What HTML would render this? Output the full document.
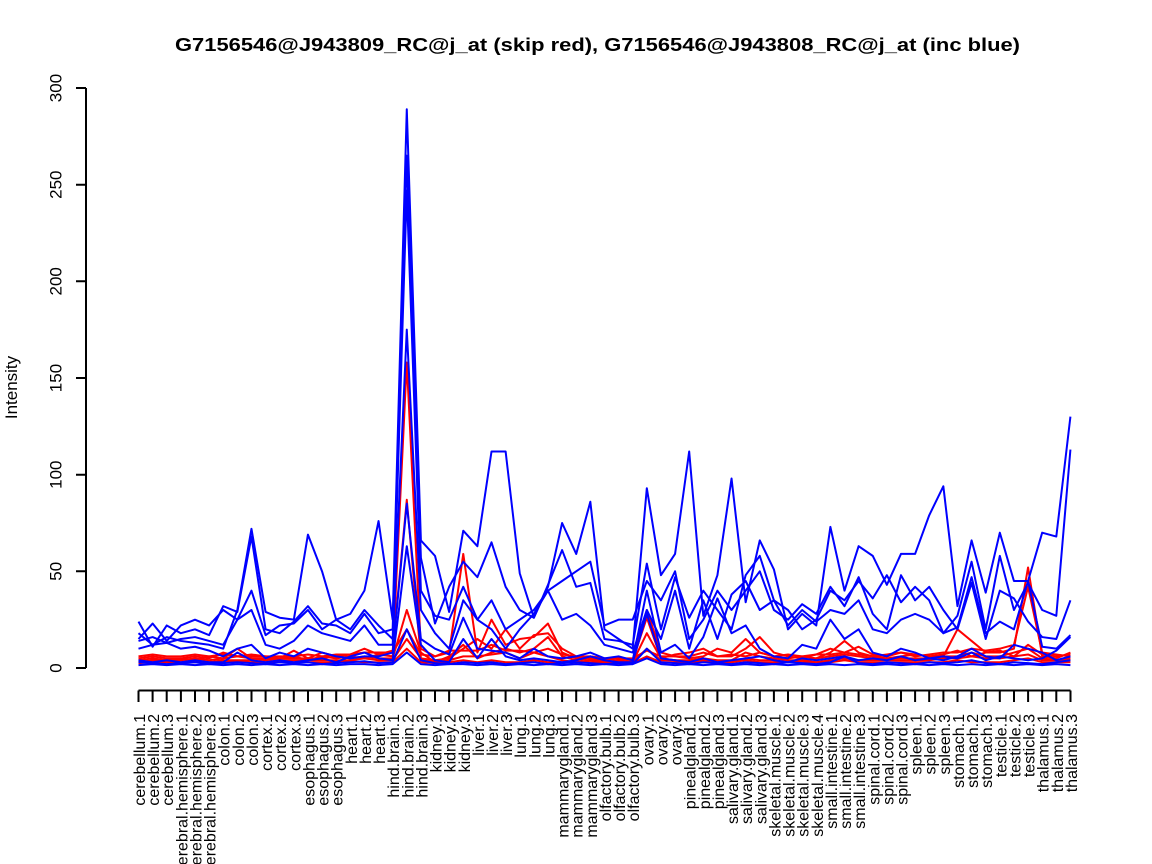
<!DOCTYPE html>
<html>
<head>
<meta charset="utf-8">
<style>
html,body{margin:0;padding:0;background:#fff;}
svg{display:block;}
text{font-family:"Liberation Sans",Arial,sans-serif;fill:#000;}
.b{fill:none;stroke:#0000ff;stroke-width:2;stroke-linejoin:round;vector-effect:non-scaling-stroke;}
.r{fill:none;stroke:#ff0000;stroke-width:2;stroke-linejoin:round;vector-effect:non-scaling-stroke;}
.xl{font-size:16px;text-anchor:end;}
.yl{font-size:17px;text-anchor:middle;}
</style>
</head>
<body>
<svg width="1152" height="864" viewBox="0 0 1152 864" xmlns="http://www.w3.org/2000/svg">
<rect width="1152" height="864" fill="#fff"/>
<text x="597.5" y="51" text-anchor="middle" font-size="18" font-weight="bold" textLength="845" lengthAdjust="spacingAndGlyphs">G7156546@J943809_RC@j_at (skip red), G7156546@J943808_RC@j_at (inc blue)</text>

<g transform="matrix(14.12 0 0 -1.93333 138.5 668)">
<polyline class="r" points="0,5 1,6 2,5 3,5 4,4 5,6 6,5 7,10 8,5 9,5 10,5 11,6 12,4 13,6 14,5 15,6 16,5 17,7 18,6 19,158 20,10 21,6 22,8 23,59 24,8 25,25 26,12 27,15 28,16 29,23 30,8 31,5 32,6 33,5 34,5 35,4 36,30 37,8 38,6 39,5 40,6 41,10 42,8 43,15 44,8 45,6 46,5 47,6 48,5 49,8 50,14 51,8 52,6 53,5 54,6 55,7 56,6 57,6 58,20 59,14 60,8 61,8 62,10 63,52 64,6 65,5 66,8"/>
<polyline class="r" points="0,4 1,5 2,4 3,5 4,6 5,5 6,8 7,6 8,7 9,6 10,5 11,9 12,5 13,8 14,6 15,7 16,10 17,7 18,9 19,87 20,5 21,4 22,5 23,10 24,15 25,10 26,20 27,10 28,17 29,18 30,10 31,6 32,5 33,4 34,5 35,4 36,26 37,5 38,7 39,8 40,10 41,6 42,6 43,10 44,16 45,8 46,6 47,5 48,7 49,10 50,8 51,11 52,7 53,6 54,8 55,6 56,7 57,8 58,8 59,10 60,9 61,10 62,12 63,42 64,8 65,7 66,6"/>
<polyline class="r" points="0,3 1,4 2,4 3,4 4,5 5,4 6,5 7,6 8,5 9,4 10,5 11,5 12,5 13,5 14,6 15,5 16,6 17,5 18,5 19,30 20,8 21,3 22,6 23,12 24,5 25,8 26,10 27,8 28,10 29,16 30,6 31,4 32,5 33,3 34,4 35,3 36,18 37,5 38,4 39,4 40,5 41,4 42,4 43,8 44,6 45,5 46,4 47,4 48,5 49,6 50,7 51,6 52,5 53,5 54,5 55,5 56,5 57,6 58,6 59,8 60,6 61,6 62,8 63,10 64,5 65,4 66,5"/>
<polyline class="r" points="0,3 1,3 2,4 3,3 4,4 5,3 6,4 7,4 8,4 9,3 10,4 11,4 12,4 13,4 14,4 15,4 16,5 17,4 18,4 19,15 20,5 21,3 22,4 23,6 24,6 25,7 26,8 27,5 28,8 29,6 30,4 31,3 32,4 33,3 34,3 35,3 36,10 37,4 38,4 39,3 40,4 41,3 42,3 43,5 44,4 45,4 46,3 47,4 48,3 49,4 50,5 51,4 52,4 53,4 54,4 55,4 56,4 57,5 58,5 59,6 60,5 61,5 62,6 63,7 64,4 65,4 66,4"/>
<polyline class="r" points="0,6 1,7 2,6 3,6 4,7 5,6 6,7 7,6 8,6 9,6 10,6 11,6 12,7 13,6 14,7 15,7 16,8 17,8 18,8 19,20 20,7 21,6 22,9 23,9 24,9 25,12 26,9 27,9 28,8 29,10 30,7 31,6 32,6 33,5 34,5 35,5 36,9 37,6 38,6 39,6 40,8 41,6 42,7 43,6 44,8 45,6 46,7 47,6 48,7 49,7 50,8 51,7 52,6 53,7 54,8 55,7 56,6 57,7 58,9 59,6 60,8 61,9 62,6 63,12 64,7 65,6 66,7"/>
<polyline class="r" points="0,2.5 1,3 2,3 3,2.5 4,3 5,3 6,3 7,3.5 8,3 9,2.5 10,3 11,3 12,3 13,3 14,3 15,3.5 16,3 17,3 18,3 19,10 20,3 21,2.5 22,3 23,4 24,3 25,4 26,3 27,3 28,4 29,3 30,3 31,3 32,3 33,2.5 34,3 35,2.5 36,6 37,3 38,3 39,3 40,3 41,3 42,3 43,4 44,3 45,3 46,3 47,3 48,3 49,3 50,4 51,3 52,3 53,3 54,3 55,3 56,3 57,3 58,4 59,3 60,3 61,3 62,4 63,5 64,3 65,3 66,3"/>

<polyline class="b" points="0,18 1,12 2,16 3,14 4,13 5,12 6,10 7,30 8,72 9,29 10,26 11,25 12,69 13,50 14,25 15,28 16,40 17,76 18,25 19,289 20,66 21,58 22,29 23,71 24,63 25,112 26,112 27,49 28,26 29,42 30,75 31,59 32,86 33,20 34,15 35,10 36,93 37,48 38,59 39,112 40,27 41,48 42,98 43,34 44,66 45,51 46,20 47,28 48,22 49,73 50,40 51,63 52,58 53,43 54,59 55,59 56,79 57,94 58,32 59,66 60,39 61,70 62,45 63,45 64,70 65,68 66,130"/>
<polyline class="b" points="0,24 1,11 2,22 3,18 4,20 5,17 6,32 7,29 8,68 9,20 10,18 11,24 12,32 13,23 14,22 15,18 16,28 17,18 18,20 19,265 20,57 21,23 22,42 23,55 24,47 25,65 26,42 27,30 28,26 29,43 30,61 31,42 32,44 33,15 34,14 35,12 36,54 37,20 38,47 39,26 40,40 41,30 42,20 43,48 44,58 45,35 46,30 47,20 48,25 49,40 50,35 51,45 52,36 53,48 54,34 55,42 56,35 57,18 58,27 59,55 60,20 61,58 62,30 63,44 64,30 65,27 66,113"/>
<polyline class="b" points="0,15 1,23 2,14 3,22 4,25 5,22 6,30 7,25 8,40 9,17 10,22 11,23 12,30 13,20 14,25 15,20 16,30 17,22 18,15 19,247 20,40 21,27 22,25 23,42 24,25 25,35 26,20 27,25 28,30 29,40 30,45 31,50 32,55 33,22 34,25 35,25 36,45 37,35 38,50 39,15 40,25 41,40 42,30 43,40 44,50 45,30 46,25 47,33 48,28 49,42 50,32 51,47 52,28 53,20 54,48 55,35 56,42 57,30 58,20 59,44 60,15 61,40 62,36 63,24 64,16 65,15 66,35"/>
<polyline class="b" points="0,14 1,16 2,13 3,15 4,16 5,14 6,12 7,25 8,30 9,12 10,10 11,14 12,22 13,18 14,16 15,14 16,22 17,12 18,12 19,175 20,30 21,18 22,10 23,35 24,25 25,20 26,10 27,20 28,28 29,40 30,25 31,28 32,22 33,12 34,10 35,8 36,30 37,15 38,40 39,10 40,35 41,15 42,38 43,45 44,30 45,35 46,22 47,30 48,24 49,30 50,28 51,35 52,20 53,18 54,25 55,28 56,25 57,18 58,21 59,47 60,18 61,24 62,20 63,45 64,11 65,10 66,17"/>
<polyline class="b" points="0,10 1,12 2,13 3,10 4,11 5,9 6,6 7,10 8,12 9,5 10,8 11,6 12,10 13,8 14,6 15,5 16,6 17,6 18,8 19,85 20,15 21,10 22,7 23,26 24,10 25,9 26,8 27,5 28,10 29,6 30,5 31,6 32,8 33,5 34,6 35,4 36,40 37,8 38,12 39,5 40,16 41,36 42,18 43,22 44,10 45,6 46,5 47,12 48,10 49,25 50,15 51,20 52,8 53,6 54,10 55,8 56,5 57,4 58,6 59,10 60,6 61,5 62,12 63,10 64,8 65,4 66,6"/>
<polyline class="b" points="0,4 1,3 2,4 3,3 4,4 5,3 6,3 7,8 8,4 9,3 10,4 11,3 12,4 13,5 14,3 15,6 16,8 17,5 18,4 19,63 20,12 21,4 22,3 23,15 24,5 25,15 26,6 27,4 28,5 29,4 30,3 31,4 32,6 33,4 34,3 35,3 36,28 37,5 38,4 39,3 40,5 41,3 42,4 43,5 44,6 45,4 46,3 47,5 48,4 49,5 50,6 51,4 52,5 53,4 54,6 55,4 56,5 57,6 58,5 59,8 60,4 61,6 62,5 63,4 64,5 65,9 66,16"/>
<polyline class="b" points="0,3 1,2.5 2,2 3,2.5 4,3 5,2 6,2.5 7,3 8,2.5 9,2 10,3 11,2.5 12,3 13,2 14,2.5 15,3 16,3.5 17,2.5 18,3 19,20 20,4 21,2.5 22,2 23,3 24,2.5 25,3 26,2 27,2.5 28,3 29,2 30,2.5 31,3 32,2.5 33,2 34,2.5 35,2 36,10 37,3 38,2.5 39,2 40,3 41,2.5 42,2 43,3 44,2.5 45,2 46,3 47,2.5 48,2 49,3 50,6 51,2.5 52,2 53,3 54,2.5 55,2 56,3 57,2.5 58,3 59,4 60,2.5 61,2 62,3 63,2.5 64,2 65,3 66,4"/>
<polyline class="b" points="0,1.5 1,2 2,1.5 3,2 4,1.5 5,2 6,1.5 7,2 8,1.5 9,2 10,1.5 11,2 12,1.5 13,2 14,1.5 15,2 16,2 17,1.5 18,2 19,8 20,2 21,1.5 22,2 23,2 24,1.5 25,2 26,1.5 27,2 28,1.5 29,2 30,1.5 31,2 32,1.5 33,2 34,1.5 35,2 36,5 37,2 38,1.5 39,2 40,1.5 41,2 42,1.5 43,2 44,1.5 45,2 46,1.5 47,2 48,1.5 49,2 50,1.5 51,2 52,1.5 53,2 54,1.5 55,2 56,1.5 57,2 58,1.5 59,2 60,1.5 61,2 62,1.5 63,2 64,1.5 65,2 66,1.5"/>
</g>

<!-- Y axis -->
<path d="M86 88 V668 M76 668 H86 M76 571.3 H86 M76 474.7 H86 M76 378 H86 M76 281.3 H86 M76 184.7 H86 M76 88 H86" stroke="#000" stroke-width="2" fill="none"/>
<text class="yl" transform="translate(61.5,668) rotate(-90)">0</text>
<text class="yl" transform="translate(61.5,571.3) rotate(-90)">50</text>
<text class="yl" transform="translate(61.5,474.7) rotate(-90)">100</text>
<text class="yl" transform="translate(61.5,378) rotate(-90)">150</text>
<text class="yl" transform="translate(61.5,281.3) rotate(-90)">200</text>
<text class="yl" transform="translate(61.5,184.7) rotate(-90)">250</text>
<text class="yl" transform="translate(61.5,88) rotate(-90)">300</text>
<text transform="translate(17,387.5) rotate(-90)" text-anchor="middle" font-size="17">Intensity</text>

<!-- X axis -->
<path stroke="#000" stroke-width="2" fill="none" d="M138.5 690.5 H1070.5
M138.5 690.5V702 M152.6 690.5V702 M166.7 690.5V702 M180.9 690.5V702 M195 690.5V702 M209.1 690.5V702 M223.2 690.5V702 M237.3 690.5V702 M251.5 690.5V702 M265.6 690.5V702 M279.7 690.5V702 M293.8 690.5V702 M308 690.5V702 M322.1 690.5V702 M336.2 690.5V702 M350.3 690.5V702 M364.4 690.5V702 M378.5 690.5V702 M392.7 690.5V702 M406.8 690.5V702 M420.9 690.5V702 M435 690.5V702 M449.1 690.5V702 M463.3 690.5V702 M477.4 690.5V702 M491.5 690.5V702 M505.6 690.5V702 M519.7 690.5V702 M533.9 690.5V702 M548 690.5V702 M562.1 690.5V702 M576.2 690.5V702 M590.3 690.5V702 M604.5 690.5V702 M618.6 690.5V702 M632.7 690.5V702 M646.8 690.5V702 M660.9 690.5V702 M675.1 690.5V702 M689.2 690.5V702 M703.3 690.5V702 M717.4 690.5V702 M731.6 690.5V702 M745.7 690.5V702 M759.8 690.5V702 M773.9 690.5V702 M788 690.5V702 M802.2 690.5V702 M816.3 690.5V702 M830.4 690.5V702 M844.5 690.5V702 M858.6 690.5V702 M872.8 690.5V702 M886.9 690.5V702 M901 690.5V702 M915.1 690.5V702 M929.2 690.5V702 M943.4 690.5V702 M957.5 690.5V702 M971.6 690.5V702 M985.7 690.5V702 M999.8 690.5V702 M1014 690.5V702 M1028.1 690.5V702 M1042.2 690.5V702 M1056.3 690.5V702 M1070.5 690.5V702"/>

<text class="xl" transform="translate(145,714) rotate(-90)">cerebellum.1</text>
<text class="xl" transform="translate(159.1,714) rotate(-90)">cerebellum.2</text>
<text class="xl" transform="translate(173.2,714) rotate(-90)">cerebellum.3</text>
<text class="xl" transform="translate(187.4,714) rotate(-90)">cerebral.hemisphere.1</text>
<text class="xl" transform="translate(201.5,714) rotate(-90)">cerebral.hemisphere.2</text>
<text class="xl" transform="translate(215.6,714) rotate(-90)">cerebral.hemisphere.3</text>
<text class="xl" transform="translate(229.7,714) rotate(-90)">colon.1</text>
<text class="xl" transform="translate(243.8,714) rotate(-90)">colon.2</text>
<text class="xl" transform="translate(258,714) rotate(-90)">colon.3</text>
<text class="xl" transform="translate(272.1,714) rotate(-90)">cortex.1</text>
<text class="xl" transform="translate(286.2,714) rotate(-90)">cortex.2</text>
<text class="xl" transform="translate(300.3,714) rotate(-90)">cortex.3</text>
<text class="xl" transform="translate(314.5,714) rotate(-90)">esophagus.1</text>
<text class="xl" transform="translate(328.6,714) rotate(-90)">esophagus.2</text>
<text class="xl" transform="translate(342.7,714) rotate(-90)">esophagus.3</text>
<text class="xl" transform="translate(356.8,714) rotate(-90)">heart.1</text>
<text class="xl" transform="translate(370.9,714) rotate(-90)">heart.2</text>
<text class="xl" transform="translate(385,714) rotate(-90)">heart.3</text>
<text class="xl" transform="translate(399.2,714) rotate(-90)">hind.brain.1</text>
<text class="xl" transform="translate(413.3,714) rotate(-90)">hind.brain.2</text>
<text class="xl" transform="translate(427.4,714) rotate(-90)">hind.brain.3</text>
<text class="xl" transform="translate(441.5,714) rotate(-90)">kidney.1</text>
<text class="xl" transform="translate(455.6,714) rotate(-90)">kidney.2</text>
<text class="xl" transform="translate(469.8,714) rotate(-90)">kidney.3</text>
<text class="xl" transform="translate(483.9,714) rotate(-90)">liver.1</text>
<text class="xl" transform="translate(498,714) rotate(-90)">liver.2</text>
<text class="xl" transform="translate(512.1,714) rotate(-90)">liver.3</text>
<text class="xl" transform="translate(526.2,714) rotate(-90)">lung.1</text>
<text class="xl" transform="translate(540.4,714) rotate(-90)">lung.2</text>
<text class="xl" transform="translate(554.5,714) rotate(-90)">lung.3</text>
<text class="xl" transform="translate(568.6,714) rotate(-90)">mammarygland.1</text>
<text class="xl" transform="translate(582.7,714) rotate(-90)">mammarygland.2</text>
<text class="xl" transform="translate(596.8,714) rotate(-90)">mammarygland.3</text>
<text class="xl" transform="translate(611,714) rotate(-90)">olfactory.bulb.1</text>
<text class="xl" transform="translate(625.1,714) rotate(-90)">olfactory.bulb.2</text>
<text class="xl" transform="translate(639.2,714) rotate(-90)">olfactory.bulb.3</text>
<text class="xl" transform="translate(653.3,714) rotate(-90)">ovary.1</text>
<text class="xl" transform="translate(667.4,714) rotate(-90)">ovary.2</text>
<text class="xl" transform="translate(681.6,714) rotate(-90)">ovary.3</text>
<text class="xl" transform="translate(695.7,714) rotate(-90)">pinealgland.1</text>
<text class="xl" transform="translate(709.8,714) rotate(-90)">pinealgland.2</text>
<text class="xl" transform="translate(723.9,714) rotate(-90)">pinealgland.3</text>
<text class="xl" transform="translate(738.1,714) rotate(-90)">salivary.gland.1</text>
<text class="xl" transform="translate(752.2,714) rotate(-90)">salivary.gland.2</text>
<text class="xl" transform="translate(766.3,714) rotate(-90)">salivary.gland.3</text>
<text class="xl" transform="translate(780.4,714) rotate(-90)">skeletal.muscle.1</text>
<text class="xl" transform="translate(794.5,714) rotate(-90)">skeletal.muscle.2</text>
<text class="xl" transform="translate(808.7,714) rotate(-90)">skeletal.muscle.3</text>
<text class="xl" transform="translate(822.8,714) rotate(-90)">skeletal.muscle.4</text>
<text class="xl" transform="translate(836.9,714) rotate(-90)">small.intestine.1</text>
<text class="xl" transform="translate(851,714) rotate(-90)">small.intestine.2</text>
<text class="xl" transform="translate(865.1,714) rotate(-90)">small.intestine.3</text>
<text class="xl" transform="translate(879.3,714) rotate(-90)">spinal.cord.1</text>
<text class="xl" transform="translate(893.4,714) rotate(-90)">spinal.cord.2</text>
<text class="xl" transform="translate(907.5,714) rotate(-90)">spinal.cord.3</text>
<text class="xl" transform="translate(921.6,714) rotate(-90)">spleen.1</text>
<text class="xl" transform="translate(935.7,714) rotate(-90)">spleen.2</text>
<text class="xl" transform="translate(949.9,714) rotate(-90)">spleen.3</text>
<text class="xl" transform="translate(964,714) rotate(-90)">stomach.1</text>
<text class="xl" transform="translate(978.1,714) rotate(-90)">stomach.2</text>
<text class="xl" transform="translate(992.2,714) rotate(-90)">stomach.3</text>
<text class="xl" transform="translate(1006.3,714) rotate(-90)">testicle.1</text>
<text class="xl" transform="translate(1020.5,714) rotate(-90)">testicle.2</text>
<text class="xl" transform="translate(1034.6,714) rotate(-90)">testicle.3</text>
<text class="xl" transform="translate(1048.7,714) rotate(-90)">thalamus.1</text>
<text class="xl" transform="translate(1062.8,714) rotate(-90)">thalamus.2</text>
<text class="xl" transform="translate(1077,714) rotate(-90)">thalamus.3</text>
</svg>
</body>
</html>
